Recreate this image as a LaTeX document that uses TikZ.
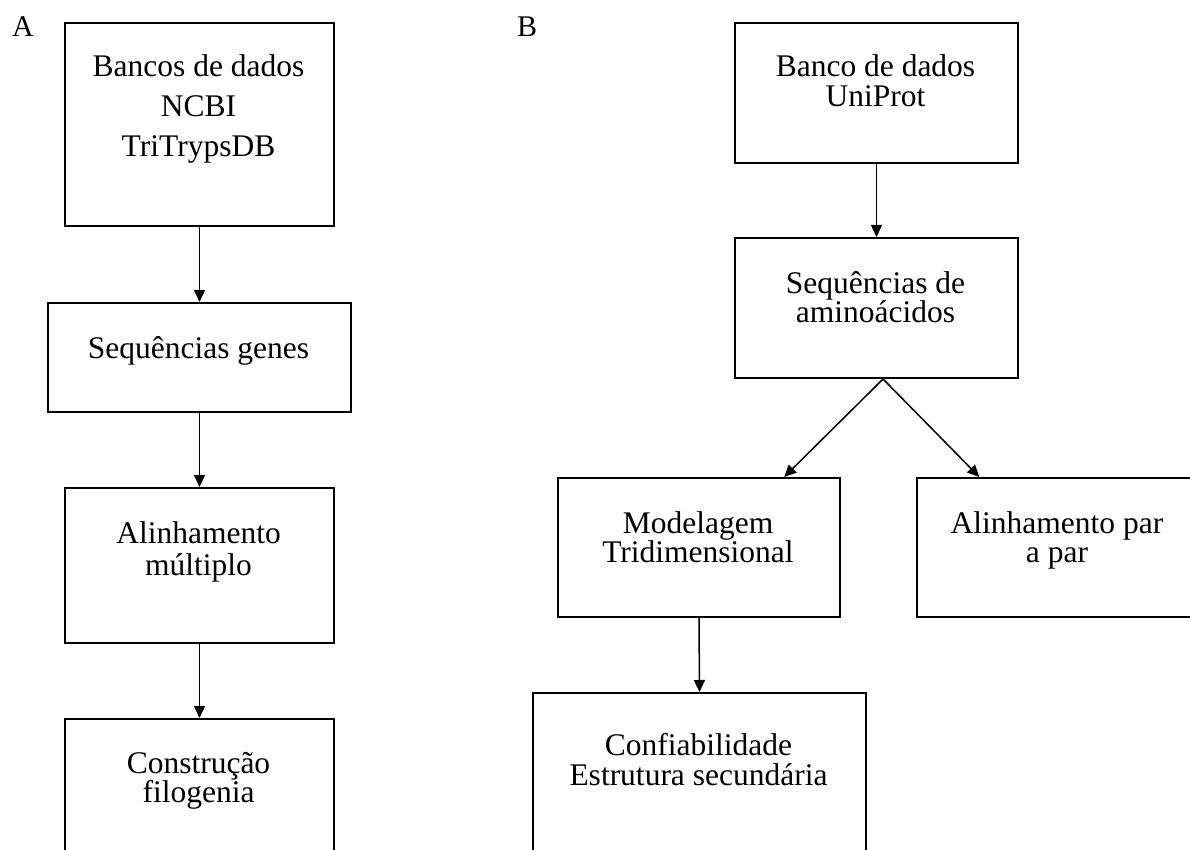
\documentclass[tikz,border=0pt]{standalone}
\usepackage{fontspec}
\setmainfont{Liberation Serif}
\usetikzlibrary{arrows.meta,calc}
\begin{document}
\begin{tikzpicture}[x=1pt,y=-1pt,
  box/.style={draw, line width=2pt, rectangle, inner sep=0pt, anchor=north west},
  txt/.style={font=\fontsize{31.5}{29}\selectfont, align=center, inner sep=0pt, anchor=base},
  arr/.style={line width=1.5pt, -{Triangle[length=12pt,width=11pt]}},
  panel/.style={font=\fontsize{30}{30}\selectfont, inner sep=0pt, anchor=base west}]
\useasboundingbox (0,0) rectangle (1190,850);
\clip (0,0) rectangle (1190,850);
% panel labels
\node[panel] (lA) at (12,37) {A};
\node[panel] (lB) at (517,37) {B};
% boxes A
\node[box, minimum width=269pt, minimum height=203pt] (b1) at (64,22) {};
\node[box, minimum width=303pt, minimum height=109pt] (b2) at (47,302) {};
\node[box, minimum width=269pt, minimum height=155pt] (b3) at (64,487) {};
\node[box, minimum width=269pt, minimum height=200pt] (b4) at (64,718) {};
% boxes B
\node[box, minimum width=283pt, minimum height=140pt] (b5) at (734,22) {};
\node[box, minimum width=283pt, minimum height=140pt] (b6) at (734,237) {};
\node[box, minimum width=282pt, minimum height=139pt] (b7) at (557,477) {};
\node[box, minimum width=282pt, minimum height=139pt] (b8) at (916,477) {};
\node[box, minimum width=333pt, minimum height=200pt] (b9) at (532,692) {};
% texts (anchored at the baseline of the last line)
\node[txt, font=\fontsize{31.5}{40}\selectfont] (t1) at (198.5,157) {Bancos de dados\\NCBI\\TriTrypsDB};
\node[txt] (t2) at (198.5,358) {Sequências genes};
\node[txt, font=\fontsize{31.5}{32}\selectfont] (t3) at (198.5,575) {Alinhamento\\múltiplo};
\node[txt] (t4) at (198.5,802) {Construção\\filogenia};
\node[txt, font=\fontsize{31.5}{30}\selectfont] (t5) at (875.5,107) {Banco de dados\\UniProt};
\node[txt] (t6) at (875.5,322) {Sequências de\\aminoácidos};
\node[txt] (t7) at (698,562) {Modelagem\\Tridimensional};
\node[txt] (t8) at (1057,562) {Alinhamento par\\a par};
\node[txt, font=\fontsize{31.5}{30}\selectfont] (t9) at (698.5,785) {Confiabilidade\\Estrutura secundária};
% arrows
\draw[arr] (b1.south) -- (b2.north);
\draw[arr] (b2.south) -- (b3.north);
\draw[arr] (b3.south) -- (b4.north);
\draw[arr] (b5.south) -- (b6.north);
\coordinate (apex) at ($(b6.south west)!0.523!(b6.south east)$);
\draw[arr] (apex) -- ($(b7.north west)!0.80!(b7.north east)$);
\draw[arr] (apex) -- ($(b8.north west)!0.223!(b8.north east)$);
\draw[arr] (b7.south) -- (b9.north);
\end{tikzpicture}
\end{document}
